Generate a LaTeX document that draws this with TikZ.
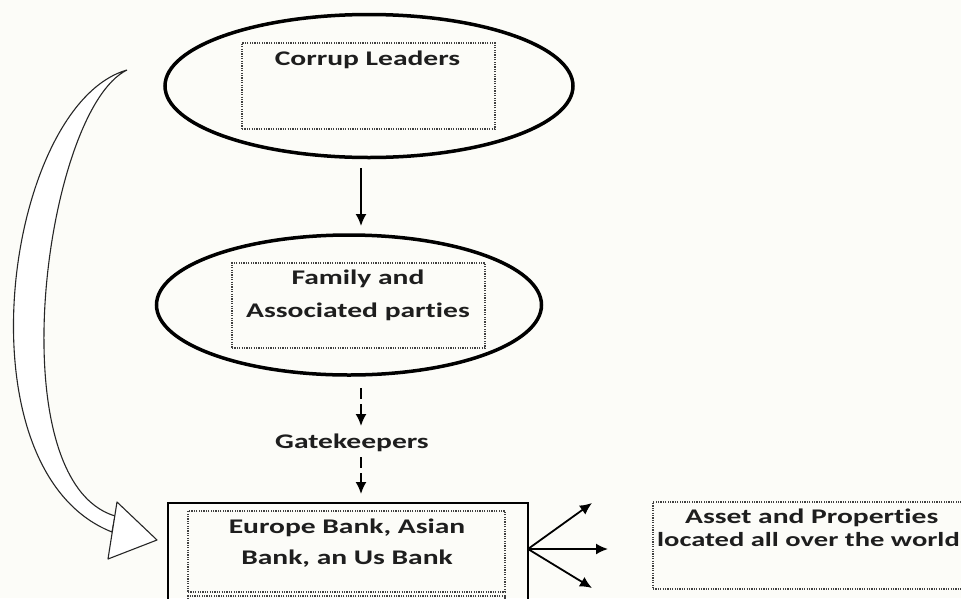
\documentclass[tikz,border=0pt]{standalone}
\usepackage{fontspec}
\setmainfont{Carlito}[FakeStretch=1.42, Ligatures=NoCommon]
\usetikzlibrary{shapes.geometric,arrows.meta}
\definecolor{bg}{HTML}{FCFCF8}
\definecolor{ink}{HTML}{1E1E1E}
\tikzset{
  oval/.style={ellipse, draw=black, line width=3.5pt, inner sep=0pt},
  dotbox/.style={draw=ink!85, line width=1.2pt, dash pattern=on 1.2pt off 1.2pt, inner sep=0pt},
  lbl/.style={font=\fontsize{20.8pt}{24pt}\selectfont\bfseries, text=ink, inner sep=0pt, anchor=base},
  arr/.style={line width=1.8pt, -{Latex[length=12pt,width=11pt]}},
  darr/.style={arr, dash pattern=on 11pt off 5pt},
  blockarrow/.style={draw=black!85, line width=1.1pt, fill=white, line join=round},
  bankrect/.style={draw=black, line width=1.6pt, inner sep=0pt}
}
\begin{document}
\begin{tikzpicture}[x=1pt,y=-1pt]
\useasboundingbox (0,0) rectangle (961,598);
\fill[bg] (0,0) rectangle (961,598);
\clip (0,0) rectangle (961,598);

% big hollow curved arrow on the left
\draw[blockarrow] (127,70) .. controls (5,105) and (-45,470) .. (112,532)
  -- (115,516) .. controls (-4,480) and (45,110) .. (127,70);
\draw[blockarrow] (117,502) -- (157,540) -- (108,559) -- cycle;

% Corrup Leaders
\node[oval, minimum width=408pt, minimum height=143pt] (lead) at (369,86) {};
\node[dotbox, minimum width=253pt, minimum height=86pt] (leadbox) at (368.5,86) {};
\node[lbl] (leadtxt) at (367.5,65) {Corrup Leaders};

% Family and Associated parties
\node[oval, minimum width=385pt, minimum height=140pt] (fam) at (349,305) {};
\node[dotbox, minimum width=253pt, minimum height=85pt] (fambox) at (358.5,305.5) {};
\node[lbl] (famtxt1) at (358,284) {Family and};
\node[lbl] (famtxt2) at (358,317) {Associated parties};

% arrow leaders -> family
\coordinate (a1s) at (361,168);
\coordinate (a1e) at (361,226);
\draw[arr] (a1s) -- (a1e);

% gatekeepers
\node[lbl] (gate) at (352,448) {Gatekeepers};
\coordinate (d1s) at (361,388);
\coordinate (d1e) at (361,426);
\draw[darr] (d1s) -- (d1e);
\coordinate (d2s) at (361,457);
\coordinate (d2e) at (361,494);
\draw[darr] (d2s) -- (d2e);

% banks
\node[bankrect, minimum width=360pt, minimum height=150pt] (bank) at (348,578) {};
\node[dotbox, minimum width=317pt, minimum height=81pt] (bankbox) at (346.5,551.5) {};
\node[dotbox, minimum width=317pt, minimum height=60pt] (bankbox2) at (346.5,626) {};
\node[lbl] (banktxt1) at (347,533) {Europe Bank, Asian};
\node[lbl] (banktxt2) at (347,564) {Bank, an Us Bank};

% fan of arrows
\coordinate (fan) at (528,549);
\coordinate (t1) at (592,503);
\coordinate (t2) at (608,549);
\coordinate (t3) at (592,588);
\draw[arr] (fan) -- (t1);
\draw[arr] (fan) -- (t2);
\draw[arr] (fan) -- (t3);

% assets
\node[dotbox, minimum width=340pt, minimum height=87pt] (asset) at (823,545.5) {};
\node[lbl] (assettxt1) at (811.7,523) {Asset and Properties};
\node[lbl, font=\fontsize{20.1pt}{24pt}\selectfont\bfseries, anchor=base west] (assettxt2) at (657,546) {located all over the world};
\end{tikzpicture}
\end{document}
